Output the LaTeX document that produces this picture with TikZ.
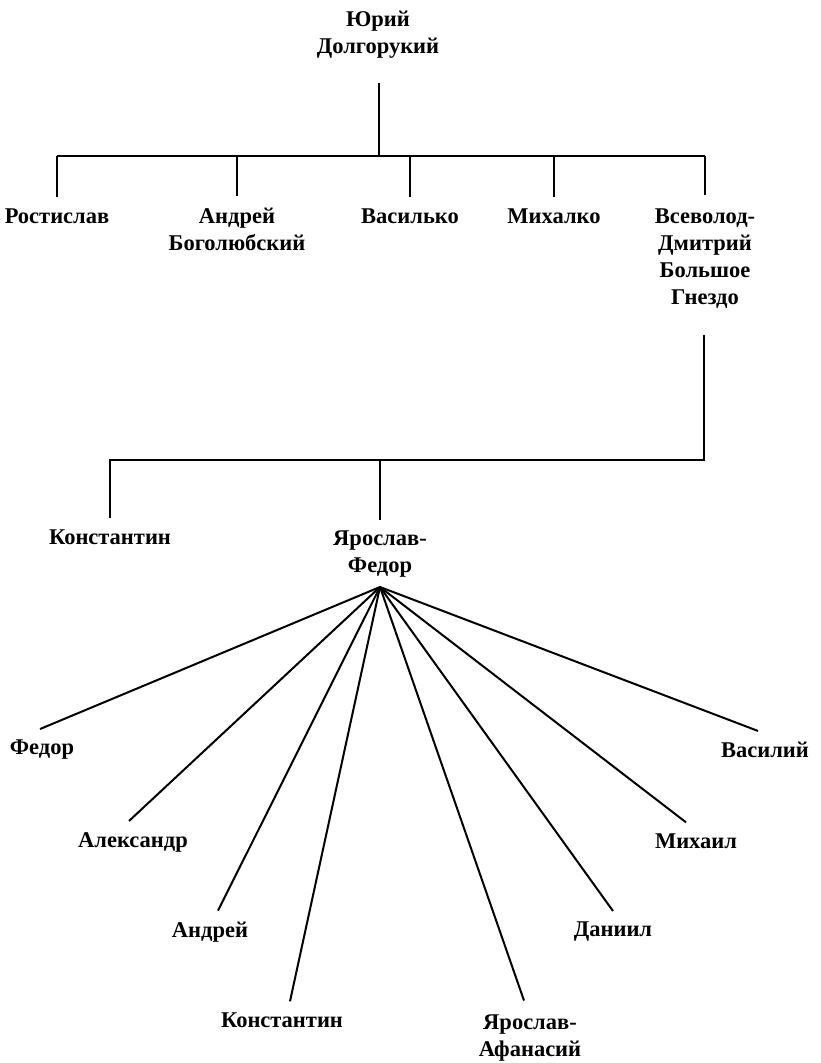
\documentclass[tikz,border=0pt]{standalone}
\usepackage{fontspec}
\usepackage{tikz}
\newfontfamily\namefont{Liberation Serif}

\begin{document}
\begin{tikzpicture}[x=1pt, y=-1pt,
  person/.style={font=\namefont\bfseries\fontsize{22.5}{27}\selectfont, align=center, inner sep=0pt},
  tree/.style={line width=2pt}]
\useasboundingbox (0,0) rectangle (820,1063);
% first generation
\node[person] (yuri) at (378,35) {Юрий\\Долгорукий};
\node[person] (rost) at (57,216) {Ростислав};
\node[person] (andr) at (237,229) {Андрей\\Боголюбский};
\node[person] (vasko) at (410,216) {Василько};
\node[person] (mikh) at (554,216) {Михалко};
\node[person] (vsev) at (705,259) {Всеволод-\\Дмитрий\\Большое\\Гнездо};
\coordinate (yuri-out) at (379,83);
\coordinate (bar1) at (379,156);
\draw[tree] (yuri-out) -- (bar1);
\draw[tree] (rost |- bar1) -- (vsev |- bar1);
\foreach \n in {rost,andr,vasko,mikh}
  \draw[tree] (\n |- bar1) -- ([yshift=11pt]\n.north);
\draw[tree] (vsev |- bar1) -- ([yshift=14pt]vsev.north);
% second generation
\node[person] (kon1) at (110,537) {Константин};
\node[person] (yar) at (380,554) {Ярослав-\\Федор};
\coordinate (vsev-out) at (704,335);
\coordinate (bar2) at (704,460);
\draw[tree] (vsev-out) -- (bar2) -- (kon1 |- bar2) -- ([yshift=11pt]kon1.north);
\draw[tree] (yar |- bar2) -- ([yshift=11pt]yar.north);
% sons of Yaroslav
\node[person] (fed) at (42,750) {Федор};
\node[person] (alex) at (133,842) {Александр};
\node[person] (andr2) at (210,932) {Андрей};
\node[person] (kon2) at (282,1020) {Константин};
\node[person] (yarafan) at (530,1038) {Ярослав-\\Афанасий};
\node[person] (dan) at (613,932) {Даниил};
\node[person] (mikh2) at (696,841) {Михаил};
\node[person] (vas) at (765,750) {Василий};
\coordinate (apex) at (380,587);
\foreach \n/\dx in {fed/-2,alex/-4,andr2/8,kon2/8,dan/0,mikh2/-10,vas/-7}
  \draw[tree] (apex) -- ([xshift=\dx pt,yshift=11pt]\n.north);
\draw[tree] (apex) -- ([xshift=-6pt,yshift=14pt]yarafan.north);
\end{tikzpicture}
\end{document}
